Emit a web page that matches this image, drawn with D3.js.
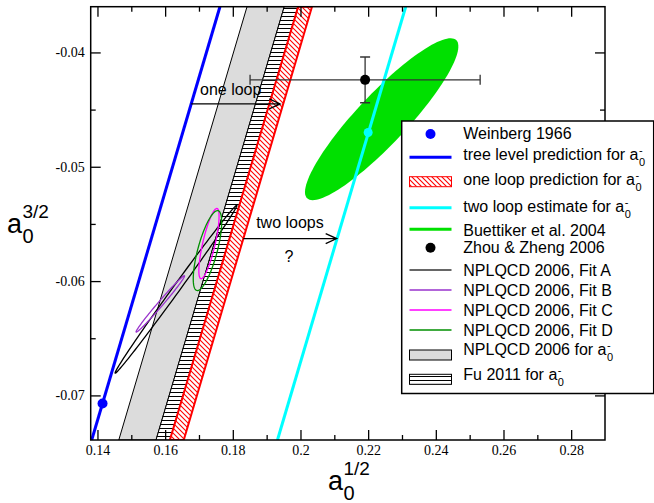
<!DOCTYPE html>
<html>
<head>
<meta charset="utf-8">
<script src="https://cdn.jsdelivr.net/npm/d3@7"></script>
<style>
  body { margin: 0; background: #fff; }
  svg { display: block; }
</style>
</head>
<body>
<svg id="chart" width="654" height="503"></svg>
<script>
// axis settings
const xDomain = [0.138, 0.29];
const yDomain = [-0.0739, -0.036];
const xMajor = [0.14, 0.16, 0.18, 0.20, 0.22, 0.24, 0.26, 0.28];
const xMinor = [0.15, 0.17, 0.19, 0.21, 0.23, 0.25, 0.27];
const yMajor = [-0.04, -0.05, -0.06, -0.07];
const yMinor = [-0.045, -0.055, -0.065];

// bands / lines of constant a0^- : a^{1/2} - a^{3/2} = c
const treeLevel = 0.2122;
const twoLoop = 0.2671;
const oneLoopBand = [0.2353, 0.2394];
const nplqcdBand = [0.2202, 0.2312];
const fuBand = [0.2312, 0.2353];

// points
const weinberg = [[0.1415, -0.0707]];
const twoLoopPoint = [[0.2200, -0.0470]];
const zhouZheng = [[0.2191, -0.0424, 0.034, 0.0020]]; // x, y, ex, ey

// ellipses: center, major half-axis, minor half-axis (data units)
const ellipses = [
  { name: 'Buettiker', c: [0.2240, -0.04584], a: [0.02202, 0.00692], b: [0.00537, -0.00150], fill: '#00e000', stroke: 'none' },
  { name: 'Fit A', c: [0.16321, -0.06071], a: [0.01798, 0.00734], b: [0.00084, -0.00018], fill: 'none', stroke: '#000' },
  { name: 'Fit B', c: [0.15857, -0.06200], a: [0.00714, 0.00246], b: [0.00056, -0.00014], fill: 'none', stroke: '#9932cc' },
  { name: 'Fit C', c: [0.17295, -0.05672], a: [0.00239, 0.00307], b: [0.00179, -0.00012], fill: 'none', stroke: '#ff00ff' },
  { name: 'Fit D', c: [0.17251, -0.05733], a: [0.00316, 0.00349], b: [0.00277, -0.00022], fill: 'none', stroke: '#008f00' }
];

// annotations
const arrows = [
  { y: -0.0445, x1: 0.1677, x2: 0.1940 },
  { y: -0.05628, x1: 0.1831, x2: 0.2107 }
];
const notes = [
  { text: 'one loop', x: 0.1703, y: -0.04374, anchor: 'start' },
  { text: 'two loops', x: 0.1869, y: -0.05538, anchor: 'start' },
  { text: '?', x: 0.1966, y: -0.05834, anchor: 'middle' }
];

const legendLabels = [
  'Weinberg 1966',
  'tree level prediction for a',
  'one loop prediction for a',
  'two loop estimate for a',
  'Buettiker et al. 2004',
  'Zhou & Zheng 2006',
  'NPLQCD 2006, Fit A',
  'NPLQCD 2006, Fit B',
  'NPLQCD 2006, Fit C',
  'NPLQCD 2006, Fit D',
  'NPLQCD 2006 for a',
  'Fu 2011 for a'
];
const legendSub = [false, true, true, true, false, false, false, false, false, false, true, true];
const legendSymY = [134, 157.3, 181.7, 207.7, 229.3, 247.7, 270, 290, 310, 330, 355, 379.3];
const legendTextY = [138.5, 159.8, 184.8, 211.5, 235.5, 253.2, 275.5, 295.5, 315.5, 335.5, 355, 379.8];

const svg = d3.select('#chart');
const margin = { left: 90.7, right: 605, top: 6.7, bottom: 440 };

const x = d3.scaleLinear().domain(xDomain).range([margin.left, margin.right]);
const y = d3.scaleLinear().domain(yDomain).range([margin.bottom, margin.top]);

// patterns
const defs = svg.append('defs');
defs.append('clipPath').attr('id', 'plotClip')
  .append('rect')
  .attr('x', margin.left).attr('y', margin.top)
  .attr('width', margin.right - margin.left)
  .attr('height', margin.bottom - margin.top);

const redHatch = defs.append('pattern').attr('id', 'redHatch')
  .attr('patternUnits', 'userSpaceOnUse').attr('width', 5).attr('height', 5);
redHatch.append('path').attr('d', 'M-1,-1 L6,6 M-4,1 L1,6 M1,-4 L6,1')
  .attr('stroke', '#ff0000').attr('stroke-width', 1.1);

const fuHatch = defs.append('pattern').attr('id', 'fuHatch')
  .attr('patternUnits', 'userSpaceOnUse').attr('width', 8).attr('height', 4);
fuHatch.append('rect').attr('width', 8).attr('height', 4).attr('fill', '#fff');
fuHatch.append('path').attr('d', 'M0,0.5 H8').attr('stroke', '#000').attr('stroke-width', 1);

const plot = svg.append('g').attr('clip-path', 'url(#plotClip)');

function bandPoints(c1, c2) {
  const [y0, y1] = yDomain;
  return [[c1 + y0, y0], [c1 + y1, y1], [c2 + y1, y1], [c2 + y0, y0]];
}
function linePoints(c) {
  const [y0, y1] = yDomain;
  return [[c + y0, y0], [c + y1, y1]];
}
const line = d3.line().x(d => x(d[0])).y(d => y(d[1]));

// NPLQCD gray band
plot.append('path')
  .attr('d', line(bandPoints(nplqcdBand[0], nplqcdBand[1])) + 'Z')
  .attr('fill', '#dcdcdc').attr('stroke', '#000').attr('stroke-width', 1);

// Fu 2011 hatched band
plot.append('path')
  .attr('d', line(bandPoints(fuBand[0], fuBand[1])) + 'Z')
  .attr('fill', 'url(#fuHatch)').attr('stroke', '#000').attr('stroke-width', 1);

// one loop red hatched band
plot.append('path')
  .attr('d', line(bandPoints(oneLoopBand[0], oneLoopBand[1])) + 'Z')
  .attr('fill', 'url(#redHatch)').attr('stroke', '#ff0000').attr('stroke-width', 2);

// ellipses (below the lines)
const tSteps = d3.range(0, 361, 3).map(d => d * Math.PI / 180);
ellipses.forEach(e => {
  const pts = tSteps.map(t => [
    e.c[0] + Math.cos(t) * e.a[0] + Math.sin(t) * e.b[0],
    e.c[1] + Math.cos(t) * e.a[1] + Math.sin(t) * e.b[1]
  ]);
  plot.append('path')
    .attr('d', line(pts) + 'Z')
    .attr('fill', e.fill)
    .attr('stroke', e.stroke)
    .attr('stroke-width', 1.3);
});

// tree level and two loop lines
plot.append('path').attr('d', line(linePoints(treeLevel)))
  .attr('stroke', '#0000ff').attr('stroke-width', 3).attr('fill', 'none');
plot.append('path').attr('d', line(linePoints(twoLoop)))
  .attr('stroke', '#00ffff').attr('stroke-width', 3).attr('fill', 'none');

// Zhou & Zheng error bars
zhouZheng.forEach(d => {
  const g = plot.append('g').attr('stroke', '#333').attr('stroke-width', 1.3);
  g.append('line').attr('x1', x(d[0] - d[2])).attr('x2', x(d[0] + d[2])).attr('y1', y(d[1])).attr('y2', y(d[1]));
  g.append('line').attr('x1', x(d[0])).attr('x2', x(d[0])).attr('y1', y(d[1] - d[3])).attr('y2', y(d[1] + d[3]));
  [d[0] - d[2], d[0] + d[2]].forEach(v => {
    g.append('line').attr('x1', x(v)).attr('x2', x(v)).attr('y1', y(d[1]) - 5).attr('y2', y(d[1]) + 5);
  });
  [d[1] - d[3], d[1] + d[3]].forEach(v => {
    g.append('line').attr('x1', x(d[0]) - 5).attr('x2', x(d[0]) + 5).attr('y1', y(v)).attr('y2', y(v));
  });
  plot.append('circle').attr('cx', x(d[0])).attr('cy', y(d[1])).attr('r', 5).attr('fill', '#000');
});

plot.selectAll('.weinberg').data(weinberg).join('circle')
  .attr('cx', d => x(d[0])).attr('cy', d => y(d[1])).attr('r', 5).attr('fill', '#0000ff');
plot.selectAll('.twoloop').data(twoLoopPoint).join('circle')
  .attr('cx', d => x(d[0])).attr('cy', d => y(d[1])).attr('r', 4.5).attr('fill', '#00ffff');

// arrows
arrows.forEach(a => {
  const yy = y(a.y), x1 = x(a.x1), x2 = x(a.x2);
  plot.append('path')
    .attr('d', `M${x1},${yy} H${x2} M${x2 - 11},${yy - 5} L${x2},${yy} L${x2 - 11},${yy + 5}`)
    .attr('stroke', '#000').attr('stroke-width', 1.3).attr('fill', 'none');
});
notes.forEach(n => {
  svg.append('text')
    .attr('x', x(n.x)).attr('y', y(n.y))
    .attr('text-anchor', n.anchor)
    .attr('font-family', 'Liberation Sans, Arial, sans-serif')
    .attr('font-size', 16)
    .text(n.text);
});

// axes
const fmt = d => String(+d.toFixed(3));
function styleAxis(g) {
  g.select('.domain').remove();
  g.selectAll('line').attr('stroke', '#000').attr('stroke-width', 1.3);
  g.selectAll('text').attr('font-family', 'Liberation Serif, Times New Roman, serif').attr('font-size', 14).attr('fill', '#000');
}
svg.append('g').attr('transform', `translate(0,${margin.bottom})`)
  .call(d3.axisBottom(x).tickValues(xMajor).tickFormat(fmt).tickSizeInner(-10).tickSizeOuter(0).tickPadding(5))
  .call(styleAxis);
svg.append('g').attr('transform', `translate(0,${margin.bottom})`)
  .call(d3.axisBottom(x).tickValues(xMinor).tickFormat('').tickSizeInner(-5).tickSizeOuter(0))
  .call(styleAxis);
svg.append('g').attr('transform', `translate(0,${margin.top})`)
  .call(d3.axisTop(x).tickValues(xMajor).tickFormat('').tickSizeInner(-10).tickSizeOuter(0))
  .call(styleAxis);
svg.append('g').attr('transform', `translate(0,${margin.top})`)
  .call(d3.axisTop(x).tickValues(xMinor).tickFormat('').tickSizeInner(-5).tickSizeOuter(0))
  .call(styleAxis);
svg.append('g').attr('transform', `translate(${margin.left},0)`)
  .call(d3.axisLeft(y).tickValues(yMajor).tickFormat(fmt).tickSizeInner(-10).tickSizeOuter(0).tickPadding(6))
  .call(styleAxis);
svg.append('g').attr('transform', `translate(${margin.left},0)`)
  .call(d3.axisLeft(y).tickValues(yMinor).tickFormat('').tickSizeInner(-5).tickSizeOuter(0))
  .call(styleAxis);
svg.append('g').attr('transform', `translate(${margin.right},0)`)
  .call(d3.axisRight(y).tickValues(yMajor).tickFormat('').tickSizeInner(-10).tickSizeOuter(0))
  .call(styleAxis);
svg.append('g').attr('transform', `translate(${margin.right},0)`)
  .call(d3.axisRight(y).tickValues(yMinor).tickFormat('').tickSizeInner(-5).tickSizeOuter(0))
  .call(styleAxis);

// frame
svg.append('rect')
  .attr('x', margin.left).attr('y', margin.top)
  .attr('width', margin.right - margin.left).attr('height', margin.bottom - margin.top)
  .attr('fill', 'none').attr('stroke', '#000').attr('stroke-width', 1.5);

// axis titles
function axisTitle(px, py, sup) {
  const g = svg.append('g').attr('font-family', 'Liberation Sans, Arial, sans-serif').attr('fill', '#000');
  g.append('text').attr('x', px).attr('y', py).attr('font-size', 27).text('a');
  g.append('text').attr('x', px + 15.5).attr('y', py - 15).attr('font-size', 19).text(sup);
  g.append('text').attr('x', px + 15.5).attr('y', py + 10).attr('font-size', 20).text('0');
}
axisTitle(7, 233.3, '3/2');
axisTitle(328, 490, '1/2');

// legend
const lg = svg.append('g').attr('font-family', 'Liberation Sans, Arial, sans-serif');
lg.append('rect').attr('x', 401.7).attr('y', 121).attr('width', 252).attr('height', 272.5)
  .attr('fill', '#fff').attr('stroke', '#000').attr('stroke-width', 1.5);

const symX0 = 409.5, symX1 = 451.5, symXc = 430.5, textX = 463.3;
legendLabels.forEach((label, i) => {
  const sy = legendSymY[i];
  if (i === 0) {
    lg.append('circle').attr('cx', symXc).attr('cy', sy).attr('r', 5).attr('fill', '#0000ff');
  } else if (i === 5) {
    lg.append('circle').attr('cx', symXc).attr('cy', sy).attr('r', 5).attr('fill', '#000');
  } else if (i === 2) {
    lg.append('rect').attr('x', symX0).attr('y', sy - 5).attr('width', symX1 - symX0).attr('height', 10)
      .attr('fill', 'url(#redHatch)').attr('stroke', '#ff0000').attr('stroke-width', 1);
  } else if (i === 10) {
    lg.append('rect').attr('x', symX0).attr('y', sy - 5).attr('width', symX1 - symX0).attr('height', 10)
      .attr('fill', '#dcdcdc').attr('stroke', '#000').attr('stroke-width', 1);
  } else if (i === 11) {
    lg.append('rect').attr('x', symX0).attr('y', sy - 5).attr('width', symX1 - symX0).attr('height', 10)
      .attr('fill', 'url(#fuHatch)').attr('stroke', '#000').attr('stroke-width', 1);
  } else {
    const styles = {
      1: ['#0000ff', 3], 3: ['#00ffff', 3], 4: ['#00e000', 3],
      6: ['#333', 1.3], 7: ['#9932cc', 1.3], 8: ['#ff00ff', 1.3], 9: ['#008f00', 1.3]
    };
    lg.append('line').attr('x1', symX0).attr('x2', symX1).attr('y1', sy).attr('y2', sy)
      .attr('stroke', styles[i][0]).attr('stroke-width', styles[i][1]);
  }
  const t = lg.append('text').attr('x', textX).attr('y', legendTextY[i])
    .attr('font-size', 16).attr('fill', '#000').text(label);
  if (legendSub[i]) {
    const w = t.node().getComputedTextLength();
    lg.append('text').attr('x', textX + w + 0.5).attr('y', legendTextY[i] - 6)
      .attr('font-size', 11).text('-');
    lg.append('text').attr('x', textX + w + 0.5).attr('y', legendTextY[i] + 6)
      .attr('font-size', 11).text('0');
  }
});
</script>
</body>
</html>
